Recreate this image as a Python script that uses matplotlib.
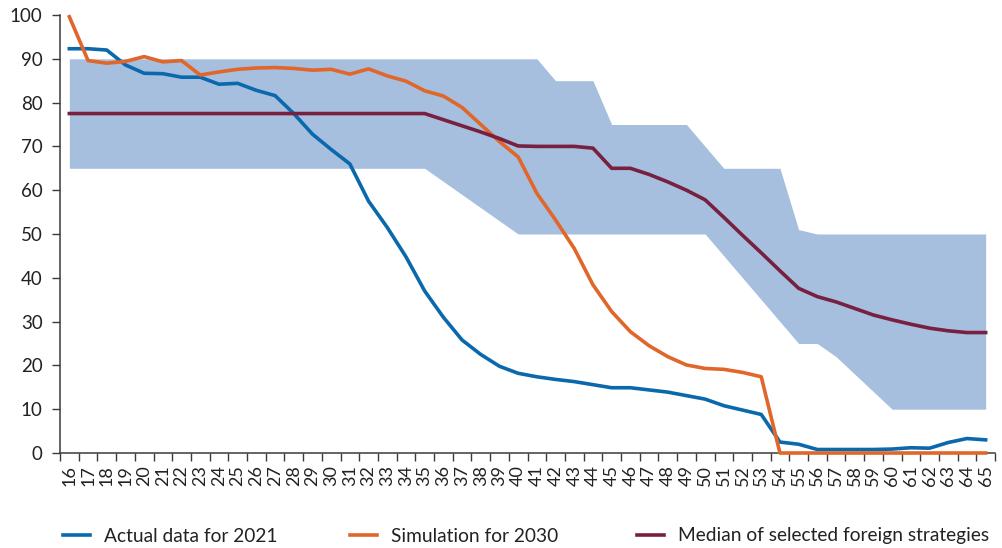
import matplotlib
matplotlib.use("Agg")
import matplotlib.pyplot as plt
import numpy as np

plt.rcParams['font.family'] = ['Lato', 'DejaVu Sans']

ages = list(range(16, 66))

actual_2021 = [92.3, 92.3, 92.0, 88.6, 86.7, 86.6, 85.8, 85.8, 84.2, 84.4,
               82.8, 81.6, 77.5, 72.8, 69.3, 66.0, 57.5, 51.5, 44.8, 37.0,
               31.0, 25.8, 22.5, 19.8, 18.2, 17.4, 16.8, 16.3, 15.6, 14.9,
               14.9, 14.4, 13.9, 13.1, 12.3, 10.8, 9.8, 8.8, 2.5, 2.0,
               0.8, 0.8, 0.8, 0.8, 0.9, 1.2, 1.1, 2.4, 3.3, 3.0]

simulation_2030 = [99.6, 89.6, 89.0, 89.4, 90.5, 89.3, 89.6, 86.3, 87.0, 87.6,
                   87.9, 88.0, 87.8, 87.4, 87.6, 86.5, 87.7, 86.1, 84.9, 82.7,
                   81.5, 78.9, 75.0, 71.1, 67.6, 59.3, 53.2, 46.7, 38.4, 32.3,
                   27.7, 24.5, 22.0, 20.1, 19.3, 19.1, 18.4, 17.4, 0.0, 0.0,
                   0.0, 0.0, 0.0, 0.0, 0.0, 0.0, 0.0, 0.0, 0.0, 0.0]

median_foreign = [77.5] * 20 + [76.1, 74.7, 73.3, 71.8, 70.1, 70.0, 70.0, 70.0, 69.6, 65.0,
                                65.0, 63.6, 61.9, 60.0, 57.8, 53.8, 49.7, 45.7, 41.6, 37.6,
                                35.7, 34.5, 33.0, 31.5, 30.4, 29.4, 28.5, 27.9, 27.5, 27.5]

range_upper = [90] * 26 + [85, 85, 85, 75, 75, 75, 75, 75, 70, 65,
                           65, 65, 65, 51, 50, 50, 50, 50, 50, 50,
                           50, 50, 50, 50]

range_lower = [65] * 20 + [62, 59, 56, 53, 50, 50, 50, 50, 50, 50,
                           50, 50, 50, 50, 50, 45, 40, 35, 30, 25,
                           25, 22, 18, 14, 10, 10, 10, 10, 10, 10]

labels = ["Actual data for 2021", "Simulation for 2030",
          "Median of selected foreign strategies"]
colors = ["#0a69ad", "#e0662a", "#77203f"]
band_color = "#a7bfdf"

fig = plt.figure(figsize=(10.03, 5.48), dpi=100)
ax = fig.add_axes([60 / 1003, 1 - 453 / 548, 935 / 1003, 438 / 548])

x = np.arange(len(ages))
ax.fill_between(x, range_lower, range_upper, color=band_color, lw=0, zorder=1)

lines = []
for series, c in zip([actual_2021, simulation_2030, median_foreign], colors):
    ln, = ax.plot(x, series, color=c, lw=2.6, solid_joinstyle='round',
                  clip_on=False, zorder=3)
    lines.append(ln)

ax.set_xlim(-0.5, len(ages) - 0.5)
ax.set_ylim(0, 100)
ax.set_yticks(range(0, 101, 10))
ax.set_xticks(x)
ax.set_xticklabels([str(a) for a in ages], rotation=90)
ax.set_xticks(np.arange(-0.5, len(ages)), minor=True)

spine_c = "#3a3a3a"
for s in ['top', 'right']:
    ax.spines[s].set_visible(False)
for s in ['left', 'bottom']:
    ax.spines[s].set_color(spine_c)
    ax.spines[s].set_linewidth(1.1)

ax.tick_params(axis='y', length=5.5, width=1.0, color=spine_c, labelsize=13.5,
               labelcolor="#222222", pad=7)
ax.tick_params(axis='x', which='major', length=0, labelsize=13,
               labelcolor="#222222", pad=9)
ax.tick_params(axis='x', which='minor', length=6, width=1.0, color=spine_c)

# one legend entry per series, spaced along the bottom
legend_x = [63, 350, 637]
for ln, lab, lx in zip(lines, labels, legend_x):
    leg = fig.legend([ln], [lab], loc='center left',
                     bbox_to_anchor=(lx / 1003, 1 - 536 / 548),
                     frameon=False, fontsize=13.8, handlelength=1.42,
                     handletextpad=0.72, borderpad=0, borderaxespad=0,
                     labelcolor="#222222")

fig.savefig("out.png", dpi=100)
